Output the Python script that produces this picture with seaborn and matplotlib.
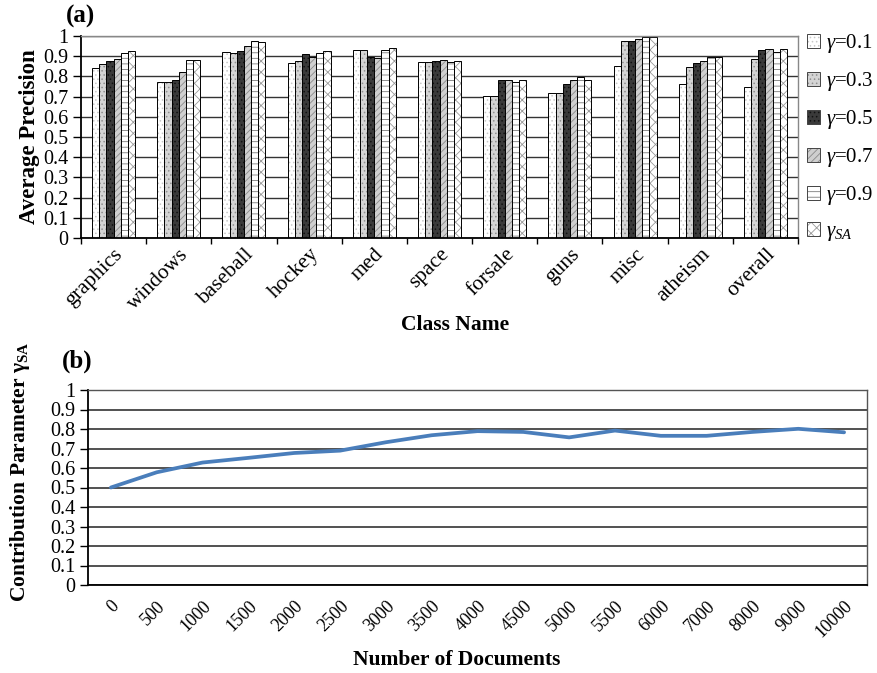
import numpy as np
import pandas as pd
import matplotlib
matplotlib.use("Agg")
import matplotlib.pyplot as plt
import seaborn as sns
from matplotlib.patches import Patch
from matplotlib.colors import to_rgba

# ---------------- data ----------------
classes = ["graphics", "windows", "baseball", "hockey", "med", "space",
           "forsale", "guns", "misc", "atheism", "overall"]
series_names = [r"$\gamma$=0.1", r"$\gamma$=0.3", r"$\gamma$=0.5",
                r"$\gamma$=0.7", r"$\gamma$=0.9", r"$\gamma_{SA}$"]
g01 = [0.840, 0.771, 0.921, 0.865, 0.929, 0.873, 0.705, 0.720, 0.852, 0.761, 0.750]
g03 = [0.862, 0.771, 0.918, 0.878, 0.929, 0.873, 0.705, 0.720, 0.974, 0.847, 0.886]
g05 = [0.878, 0.784, 0.924, 0.909, 0.898, 0.876, 0.784, 0.761, 0.974, 0.868, 0.931]
g07 = [0.885, 0.822, 0.951, 0.898, 0.891, 0.881, 0.781, 0.783, 0.987, 0.876, 0.934]
g09 = [0.918, 0.881, 0.975, 0.916, 0.931, 0.873, 0.771, 0.799, 0.997, 0.898, 0.923]
gsa = [0.926, 0.883, 0.969, 0.926, 0.939, 0.878, 0.781, 0.784, 0.997, 0.898, 0.936]
series_values = [g01, g03, g05, g07, g09, gsa]

doc_counts = ["0", "500", "1000", "1500", "2000", "2500", "3000", "3500", "4000",
              "4500", "5000", "5500", "6000", "7000", "8000", "9000", "10000"]
gamma_sa_curve = [0.500, 0.578, 0.628, 0.652, 0.677, 0.689, 0.732, 0.768, 0.789,
                  0.785, 0.757, 0.792, 0.765, 0.765, 0.785, 0.801, 0.783]

y_ticks = [0, 0.1, 0.2, 0.3, 0.4, 0.5, 0.6, 0.7, 0.8, 0.9, 1]
y_tick_labels = ["0", "0.1", "0.2", "0.3", "0.4", "0.5", "0.6", "0.7", "0.8", "0.9", "1"]

# ---------------- style ----------------
sns.set_theme(style="white")
plt.rcParams['font.family'] = ['Liberation Serif', 'DejaVu Serif']
plt.rcParams['mathtext.fontset'] = 'custom'
plt.rcParams['mathtext.rm'] = 'Liberation Serif'
plt.rcParams['mathtext.it'] = 'Liberation Serif:italic'
plt.rcParams['mathtext.bf'] = 'Liberation Serif:bold'
for k in ['text.color', 'axes.labelcolor', 'xtick.color', 'ytick.color']:
    plt.rcParams[k] = 'black'
plt.rcParams['hatch.linewidth'] = 0.6

faces = ["#ffffff", "#d4d4d4", "#3a3a3a", "#cfcfcf", "#ffffff", "#ffffff"]
hatches = ["....", "....", "....", "/////", "---", "xxx"]
hatch_cols = ["#c8c8c8", "#909090", "#111111", "#8a8a8a", "#7a7a7a", "#9a9a9a"]

rows = []
for name, vals in zip(series_names, series_values):
    for c, v in zip(classes, vals):
        rows.append({"cls": c, "series": name, "value": v})
df = pd.DataFrame(rows)

fig = plt.figure(figsize=(8.78, 6.73), dpi=100)

# ---------------- (a) bar chart ----------------
ax1 = fig.add_axes([81/878, 1-238/673, (798-81)/878, (238-36)/673])
sns.barplot(data=df, x="cls", y="value", hue="series", hue_order=series_names,
            order=classes, palette=faces, width=0.66, edgecolor="black",
            linewidth=0.7, legend=False, ax=ax1, errorbar=None, saturation=1)
for cont, h, hc in zip(ax1.containers, hatches, hatch_cols):
    for p in cont:
        p.set_hatch(h)
        p._hatch_color = to_rgba(hc)

ax1.set_ylim(0, 1)
ax1.set_xlim(-0.5, len(classes) - 0.5)
ax1.set_yticks(y_ticks)
ax1.set_yticklabels(y_tick_labels, fontsize=14.5)
ax1.yaxis.grid(True, color="#333333", linewidth=1.0)
ax1.set_axisbelow(True)
ax1.set_xticks(range(len(classes)))
ax1.set_xticklabels(classes, rotation=45, ha="right", rotation_mode="anchor", fontsize=15.5)
ax1.set_xticks(np.arange(-0.5, len(classes), 1), minor=True)
ax1.tick_params(axis="x", which="major", length=0, pad=5)
ax1.tick_params(axis="x", which="minor", length=4, width=1, color="black", direction="out", bottom=True)
ax1.tick_params(axis="y", length=6, width=1, color="black", direction="out", left=True, pad=3)
ax1.set_xlabel("")
ax1.set_ylabel("Average Precision", fontsize=16.5, fontweight="bold", labelpad=2)
for s in ["left", "bottom"]:
    ax1.spines[s].set_color("black")
    ax1.spines[s].set_linewidth(1.3)
for s in ["top", "right"]:
    ax1.spines[s].set_color("#888888")
    ax1.spines[s].set_linewidth(1.0)

handles = []
for f, h, hc in zip(faces, hatches, hatch_cols):
    p = Patch(facecolor=f, edgecolor="#444444", hatch=h, linewidth=0.7)
    p._hatch_color = to_rgba(hc)
    handles.append(p)
fig.legend(handles, series_names, loc="upper left", bbox_to_anchor=(799/878, 1-24/673),
           frameon=False, fontsize=15, handlelength=0.6, handleheight=0.6,
           handletextpad=0.3, labelspacing=0.72, borderaxespad=0)

fig.text(66/878, 1-16/673, "(a)", fontsize=18, fontweight="bold", ha="left", va="center")
fig.text(455/878, 1-325/673, "Class Name", fontsize=15.5, fontweight="bold", ha="center", va="center")

# ---------------- (b) line chart ----------------
ax2 = fig.add_axes([88/878, 1-585/673, (867-88)/878, (585-390)/673])
sns.lineplot(x=doc_counts, y=gamma_sa_curve, sort=False, color="#4a7ebb",
             linewidth=2.7, ax=ax2)
ax2.set_ylim(0, 1)
ax2.set_xlim(-0.5, len(doc_counts) - 0.5)
ax2.set_yticks(y_ticks)
ax2.set_yticklabels(y_tick_labels, fontsize=14.5)
ax2.yaxis.grid(True, color="#222222", linewidth=1.1)
ax2.set_axisbelow(True)
ax2.set_xticks(range(len(doc_counts)))
ax2.set_xticklabels(doc_counts, rotation=45, ha="right", rotation_mode="anchor", fontsize=13)
ax2.tick_params(axis="x", length=0, pad=9)
ax2.tick_params(axis="y", length=6, width=1, color="black", direction="out", left=True, pad=3)
ax2.set_xlabel("")
ax2.set_ylabel(r"Contribution Parameter γ$_{\mathbf{SA}}$", fontsize=15.5, fontweight="bold", labelpad=2)
ax2.yaxis.set_label_coords(-0.072, 0.58)
for s in ["left", "bottom"]:
    ax2.spines[s].set_color("black")
    ax2.spines[s].set_linewidth(1.3)
for s in ["top", "right"]:
    ax2.spines[s].set_color("#555555")
    ax2.spines[s].set_linewidth(1.0)

fig.text(62/878, 1-361/673, "(b)", fontsize=18, fontweight="bold", ha="left", va="center")
fig.text(457/878, 1-660/673, "Number of Documents", fontsize=15.5, fontweight="bold", ha="center", va="center")

fig.savefig("out.png", dpi=100)
